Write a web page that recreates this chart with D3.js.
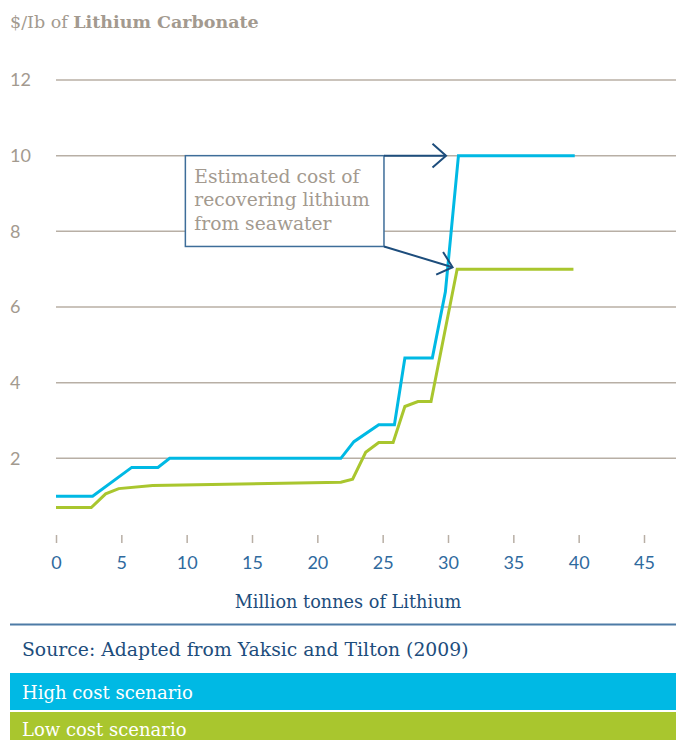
<!DOCTYPE html>
<html>
<head>
<meta charset="utf-8">
<script src="https://cdn.jsdelivr.net/npm/d3@7"></script>
<style>
  body { margin: 0; background: #fff; }
  svg { display: block; }
</style>
</head>
<body>
<svg id="chart" width="676" height="740"></svg>
<script>
// Cost curve (x = million tonnes of lithium, y = $/lb of lithium carbonate)
const highX = [0, 2.8, 5.8, 7.8, 8.7, 21.8, 22.8, 24.7, 25.9, 26.7, 28.8, 29.8, 30.8, 39.7];
const highY = [1.0, 1.0, 1.76, 1.76, 2.0, 2.0, 2.44, 2.89, 2.89, 4.65, 4.65, 6.4, 10.0, 10.0];
const lowX = [0, 2.7, 3.8, 4.8, 7.4, 21.8, 22.7, 23.7, 24.7, 25.8, 26.7, 27.7, 28.7, 30.7, 39.6];
const lowY = [0.7, 0.7, 1.06, 1.2, 1.28, 1.37, 1.45, 2.16, 2.42, 2.42, 3.37, 3.5, 3.5, 7.0, 7.0];
const xTicks = [0, 5, 10, 15, 20, 25, 30, 35, 40, 45];
const yTicks = [2, 4, 6, 8, 10, 12];
const seriesNames = ['High cost scenario', 'Low cost scenario'];
const seriesColors = ['#00b9e4', '#a9c62e'];
const noteLines = ['Estimated cost of', 'recovering lithium', 'from seawater'];

const svg = d3.select('#chart');
const serif = "'DejaVu Serif', 'Liberation Serif', serif";
const sans = "Lato, 'Open Sans', sans-serif";

const x = d3.scaleLinear().domain([0, 45]).range([56, 644]);
const y = d3.scaleLinear().domain([0, 12]).range([534, 80]);

// Title
const title = svg.append('text')
    .attr('x', 10).attr('y', 28)
    .attr('font-family', serif).attr('font-size', 17.5)
    .attr('fill', '#a39a8f');
title.append('tspan').text('$/Ib of ');
title.append('tspan').attr('font-weight', 'bold').text('Lithium Carbonate');

// Gridlines + y labels
svg.append('g').selectAll('line')
    .data(yTicks)
    .join('line')
    .attr('x1', 56).attr('x2', 676)
    .attr('y1', d => y(d)).attr('y2', d => y(d))
    .attr('stroke', '#b8afa5').attr('stroke-width', 1.5);

svg.append('g').selectAll('text')
    .data(yTicks)
    .join('text')
    .attr('x', 10).attr('y', d => y(d))
    .attr('dy', '0.35em')
    .attr('font-family', sans).attr('font-size', 18)
    .attr('fill', '#a39a8f')
    .text(d => d);

// Bottom axis
const xAxis = svg.append('g')
    .attr('transform', 'translate(0,535)')
    .call(d3.axisBottom(x).tickValues(xTicks).tickSize(8).tickPadding(13));
xAxis.select('.domain').remove();
xAxis.selectAll('.tick line').attr('stroke', '#b8afa5').attr('stroke-width', 1.5);
xAxis.selectAll('.tick text')
    .attr('font-family', sans).attr('font-size', 18)
    .attr('fill', '#2f6a9e');

svg.append('text')
    .attr('x', 348).attr('y', 608)
    .attr('text-anchor', 'middle')
    .attr('font-family', serif).attr('font-size', 17.7)
    .attr('fill', '#1d4d7c')
    .text('Million tonnes of Lithium');

// Lines
const line = d3.line().x(d => x(d[0])).y(d => y(d[1]));
const series = [d3.zip(highX, highY), d3.zip(lowX, lowY)];
svg.append('g').selectAll('path')
    .data(series)
    .join('path')
    .attr('d', line)
    .attr('fill', 'none')
    .attr('stroke', (d, i) => seriesColors[i])
    .attr('stroke-width', 3)
    .attr('stroke-linejoin', 'miter');

// Annotation box
const boxX0 = x(9.9), boxX1 = x(25.1), boxY0 = y(10), boxY1 = y(7.6);
svg.append('rect')
    .attr('x', boxX0).attr('y', boxY0)
    .attr('width', boxX1 - boxX0).attr('height', boxY1 - boxY0)
    .attr('fill', '#fff')
    .attr('stroke', '#3d6d99').attr('stroke-width', 1.5);

svg.append('g').selectAll('text')
    .data(noteLines)
    .join('text')
    .attr('x', boxX0 + 9)
    .attr('y', (d, i) => boxY0 + 27 + i * 23.5)
    .attr('font-family', serif).attr('font-size', 18.7)
    .attr('fill', '#a39a8f')
    .text(d => d);

// Arrows from box corners to curve tops
const arrowColor = '#1d4d7c';
const arrows = [
  { from: [boxX1, boxY0], to: [x(29.85), y(10)] },
  { from: [boxX1, boxY1], to: [x(30.35), y(7.05)] }
];
arrows.forEach(a => {
  const [x0, y0] = a.from, [x1, y1] = a.to;
  const ang = Math.atan2(y1 - y0, x1 - x0);
  const len = 18, spread = 0.72;
  const p1 = [x1 - len * Math.cos(ang - spread), y1 - len * Math.sin(ang - spread)];
  const p2 = [x1 - len * Math.cos(ang + spread), y1 - len * Math.sin(ang + spread)];
  svg.append('line')
      .attr('x1', x0).attr('y1', y0).attr('x2', x1).attr('y2', y1)
      .attr('stroke', arrowColor).attr('stroke-width', 2);
  svg.append('path')
      .attr('d', `M${p1}L${x1},${y1}L${p2}`)
      .attr('fill', 'none')
      .attr('stroke', arrowColor).attr('stroke-width', 2);
});

// Source + legend bands
svg.append('line')
    .attr('x1', 10).attr('x2', 676).attr('y1', 624.5).attr('y2', 624.5)
    .attr('stroke', '#4d7ba6').attr('stroke-width', 2);

svg.append('text')
    .attr('x', 22).attr('y', 656)
    .attr('font-family', serif).attr('font-size', 18.8)
    .attr('fill', '#1d4d7c')
    .text('Source: Adapted from Yaksic and Tilton (2009)');

const legend = svg.append('g').selectAll('g')
    .data(seriesNames)
    .join('g')
    .attr('transform', (d, i) => `translate(10,${673 + i * 39})`);
legend.append('rect')
    .attr('width', 666).attr('height', (d, i) => i === 0 ? 37 : 30)
    .attr('fill', (d, i) => seriesColors[i]);
legend.append('text')
    .attr('x', 12).attr('y', (d, i) => i === 0 ? 26 : 24)
    .attr('font-family', serif).attr('font-size', 18)
    .attr('fill', '#fff')
    .text(d => d);
</script>
</body>
</html>
